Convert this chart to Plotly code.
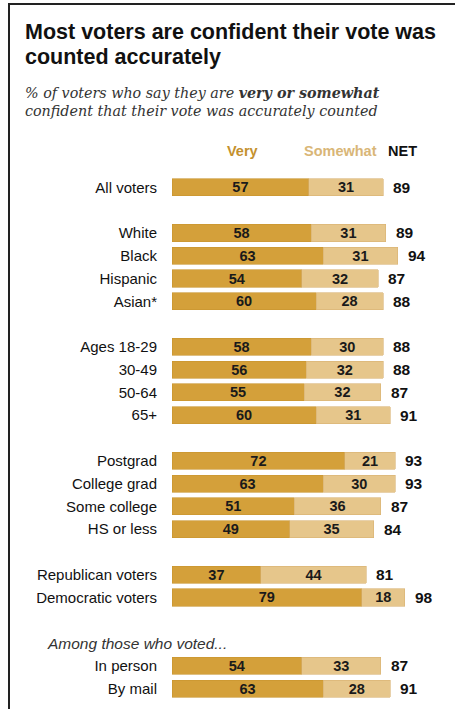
import plotly.graph_objects as go

# Survey groups (each inner list is one visual block of rows)
groups = [
    ["All voters"],
    ["White", "Black", "Hispanic", "Asian*"],
    ["Ages 18-29", "30-49", "50-64", "65+"],
    ["Postgrad", "College grad", "Some college", "HS or less"],
    ["Republican voters", "Democratic voters"],
    ["In person", "By mail"],
]
very = [57, 58, 63, 54, 60, 58, 56, 55, 60, 72, 63, 51, 49, 37, 79, 54, 63]
somewhat = [31, 31, 31, 32, 28, 30, 32, 32, 31, 21, 30, 36, 35, 44, 18, 33, 28]
net = [89, 89, 94, 87, 88, 88, 88, 87, 91, 93, 93, 87, 84, 81, 98, 87, 91]

W, H = 455, 709
VERY_C = "#D4A03A"
SOME_C = "#E6C68B"
FONT = "Liberation Sans, Arial, sans-serif"

# Row slots: one blank slot between blocks, plus a heading slot before the last block
labels, slots = [], []
s = 0
for gi, g in enumerate(groups):
    if gi == len(groups) - 1:
        heading_slot = s
        s += 1
    for lab in g:
        labels.append(lab)
        slots.append(s)
        s += 1
    s += 1

ML, MR, MT, MB = 172, 43, 176, 9
PW, PH = W - ML - MR, H - MT - MB


def px(x):
    return (x - ML) / PW


def py(y):
    return (H - MB - y) / PH


fig = go.Figure()
fig.add_trace(go.Bar(
    y=slots, x=very, orientation="h", width=0.75,
    marker=dict(color=VERY_C, line=dict(color="#C8942E", width=0.6)),
    text=[f"<b>{v}</b>" for v in very], textposition="inside", insidetextanchor="middle",
    textangle=0, textfont=dict(family=FONT, size=14.5, color="#1a1a1a"),
    constraintext="none", hoverinfo="skip", name="Very",
))
fig.add_trace(go.Bar(
    y=slots, x=somewhat, orientation="h", width=0.75,
    marker=dict(color=SOME_C, line=dict(color="#D8B373", width=0.6)),
    text=[f"<b>{v}</b>" for v in somewhat], textposition="inside", insidetextanchor="middle",
    textangle=0, textfont=dict(family=FONT, size=14.5, color="#1a1a1a"),
    constraintext="none", hoverinfo="skip", name="Somewhat",
))

ann = []
# NET values beside each bar
for yv, a, b, n in zip(slots, very, somewhat, net):
    ann.append(dict(x=a + b, y=yv, xref="x", yref="y", text=f"<b>{n}</b>",
                    xanchor="left", yanchor="middle", xshift=8, showarrow=False,
                    font=dict(family=FONT, size=15.5, color="#111")))

# Column headers
for text, cx, col in [("Very", 242, "#C4912E"), ("Somewhat", 340, "#D9B677"), ("NET", 402, "#111")]:
    ann.append(dict(x=px(cx), y=py(151), xref="paper", yref="paper", text=f"<b>{text}</b>",
                    xanchor="center", yanchor="middle", showarrow=False,
                    font=dict(family=FONT, size=14.5, color=col)))

# Heading above the last block
ann.append(dict(x=px(45), y=heading_slot, xref="paper", yref="y",
                text="<i>Among those who voted...</i>", xanchor="left", yanchor="middle",
                showarrow=False, font=dict(family=FONT, size=15.5, color="#333")))

# Title and subtitle
ann.append(dict(x=px(23), y=py(32), xref="paper", yref="paper",
                text="<b>Most voters are confident their vote was</b>", xanchor="left",
                yanchor="middle", showarrow=False, font=dict(family=FONT, size=21.5, color="#111")))
ann.append(dict(x=px(23), y=py(57), xref="paper", yref="paper",
                text="<b>counted accurately</b>", xanchor="left",
                yanchor="middle", showarrow=False, font=dict(family=FONT, size=21.5, color="#111")))
SERIF = "DejaVu Serif, serif"
ann.append(dict(x=px(23), y=py(93), xref="paper", yref="paper",
                text="<i>% of voters who say they are <b>very or somewhat</b></i>", xanchor="left",
                yanchor="middle", showarrow=False, font=dict(family=SERIF, size=14.3, color="#333")))
ann.append(dict(x=px(23), y=py(111), xref="paper", yref="paper",
                text="<i>confident that their vote was accurately counted</i>", xanchor="left",
                yanchor="middle", showarrow=False, font=dict(family=SERIF, size=14.3, color="#333")))

# Frame lines (top and left)
shapes = [
    dict(type="line", xref="paper", yref="paper", x0=px(8), x1=px(W), y0=py(4), y1=py(4),
         line=dict(color="#222", width=2)),
    dict(type="line", xref="paper", yref="paper", x0=px(9), x1=px(9), y0=py(4), y1=py(H),
         line=dict(color="#222", width=2)),
]

fig.update_layout(
    width=W, height=H, barmode="stack", showlegend=False,
    margin=dict(l=ML, r=MR, t=MT, b=MB, autoexpand=False),
    paper_bgcolor="white", plot_bgcolor="white",
    xaxis=dict(range=[0, 100], visible=False, fixedrange=True),
    yaxis=dict(range=[s - 1.5, -0.5], tickvals=slots, ticktext=labels, ticks="",
               showgrid=False, zeroline=False, showline=False, ticklabelstandoff=14,
               tickfont=dict(family=FONT, size=15, color="#111"), fixedrange=True),
    annotations=ann, shapes=shapes,
)

fig.write_html("out.html", config={"displayModeBar": False})
